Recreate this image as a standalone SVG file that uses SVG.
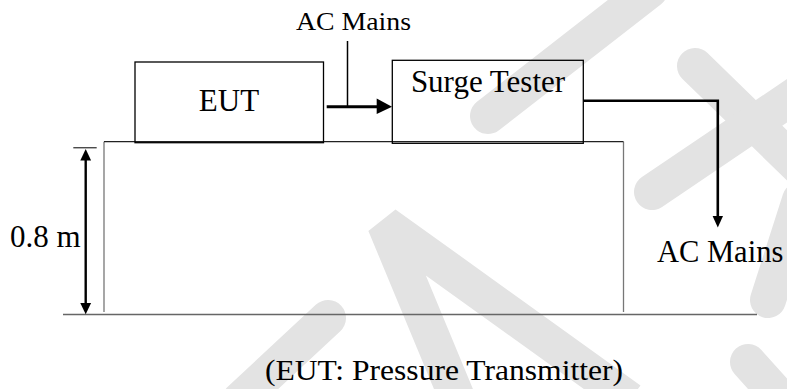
<svg xmlns="http://www.w3.org/2000/svg" width="787" height="389" viewBox="0 0 787 389">
<style>
.wm{fill:none;stroke:#e3e3e3;stroke-width:36;stroke-linejoin:bevel}
.wr{stroke-linecap:round}
.box{fill:none;stroke:#000;stroke-width:1.3}
.t{font-family:"Liberation Serif","Times New Roman",serif;fill:#000}
.ln{fill:none;stroke:#000}
.ah{fill:#000;stroke:none}
</style>
<rect width="787" height="389" fill="#fff"/>
<g id="watermark">
<path class="wm" d="M458,400 L385,224 L630,400"/>
<path class="wm wr" d="M240,400 L328,318"/>
<path class="wm wr" d="M488,116 L650,-10"/>
<path class="wm wr" d="M695,66 L800,168"/>
<path class="wm wr" d="M652,192 L800,92"/>
<path class="wm wr" d="M768,300 L800,200"/>
<path class="wm wr" d="M748,362 L800,420"/>
</g>
<g id="table">
<line x1="104" y1="312" x2="104" y2="141.7" stroke="#777" stroke-width="1.3"/>
<line x1="623.5" y1="312" x2="623.5" y2="141.7" stroke="#777" stroke-width="1.3"/>
<line x1="104" y1="141.7" x2="623.5" y2="141.7" stroke="#222" stroke-width="1.3"/>
</g>
<g id="floor">
<line x1="63" y1="314.5" x2="757" y2="314.5" stroke="#666" stroke-width="1.5"/>
</g>
<g id="eut">
<rect class="box" x="135" y="62" width="188.5" height="80.7"/>
<text class="t" x="229" y="111" font-size="31" text-anchor="middle">EUT</text>
</g>
<g id="surge-tester">
<rect class="box" x="392.3" y="60.3" width="191" height="83"/>
<text class="t" x="488" y="92" font-size="31" text-anchor="middle">Surge Tester</text>
</g>
<g id="labels">
<text class="t" x="296" y="30" font-size="25" textLength="115" lengthAdjust="spacingAndGlyphs">AC Mains</text>
<text class="t" x="657" y="261.5" font-size="30.5">AC Mains</text>
<text class="t" x="10" y="247.3" font-size="31">0.8 m</text>
<text class="t" x="265" y="380" font-size="30" textLength="358" lengthAdjust="spacingAndGlyphs">(EUT: Pressure Transmitter)</text>
</g>
<g id="connectors">
<line class="ln" x1="347.5" y1="41" x2="347.5" y2="107" stroke-width="1.5"/>
<line class="ln" x1="326.7" y1="106.7" x2="379" y2="106.7" stroke-width="3"/>
<polygon class="ah" points="376.7,98.5 392,106.7 376.7,114"/>
<polyline class="ln" points="583.3,100.8 717.8,100.8 717.8,218" stroke-width="2.6"/>
<polygon class="ah" points="712.6,216 717.8,227.5 723,216"/>
<line class="ln" x1="73.3" y1="147.8" x2="96.7" y2="147.8" stroke-width="1"/>
<line class="ln" x1="85.7" y1="158" x2="85.7" y2="306" stroke-width="2.4"/>
<polygon class="ah" points="85.7,149 80.3,160.5 91.1,160.5"/>
<polygon class="ah" points="85.7,314.3 80.3,303 91.1,303"/>
</g>
</svg>
